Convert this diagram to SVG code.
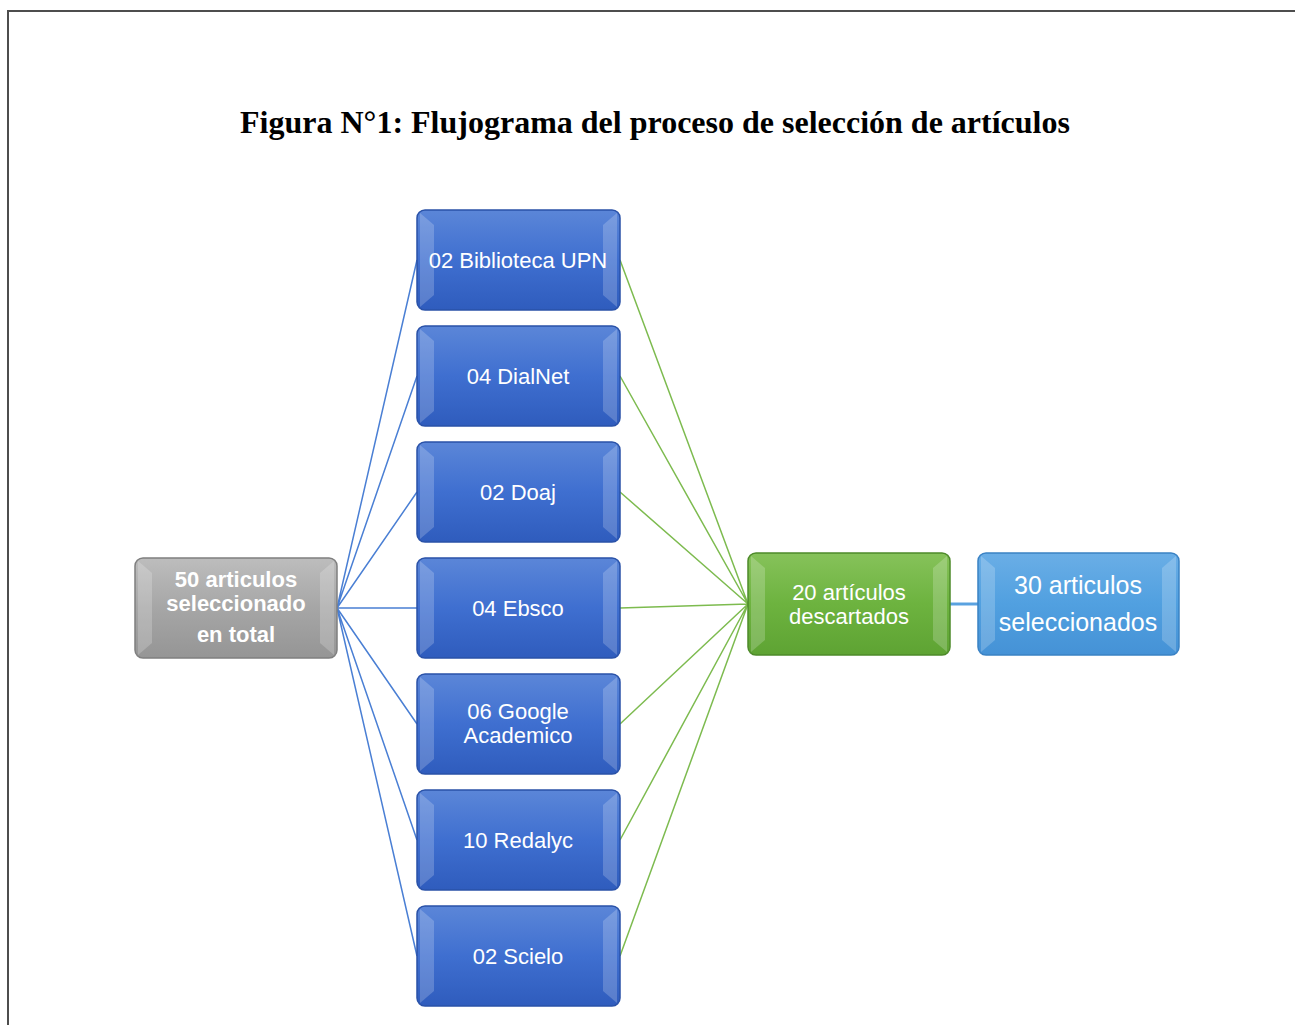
<svg xmlns="http://www.w3.org/2000/svg" width="1295" height="1025" viewBox="0 0 1295 1025">
<defs>
<linearGradient id="gBlue" x1="0" y1="0" x2="0" y2="1">
<stop offset="0" stop-color="#5b86d8"/><stop offset="0.5" stop-color="#3f6fd0"/><stop offset="1" stop-color="#2f5cbd"/>
</linearGradient>
<linearGradient id="gGray" x1="0" y1="0" x2="0" y2="1">
<stop offset="0" stop-color="#bdbdbd"/><stop offset="0.5" stop-color="#a6a6a6"/><stop offset="1" stop-color="#959595"/>
</linearGradient>
<linearGradient id="gGreen" x1="0" y1="0" x2="0" y2="1">
<stop offset="0" stop-color="#86c25a"/><stop offset="0.5" stop-color="#6db33f"/><stop offset="1" stop-color="#5ea333"/>
</linearGradient>
<linearGradient id="gLight" x1="0" y1="0" x2="0" y2="1">
<stop offset="0" stop-color="#6aaee6"/><stop offset="0.5" stop-color="#51a0e0"/><stop offset="1" stop-color="#4592d6"/>
</linearGradient>
</defs>
<style>
.bl{fill:url(#gBlue);stroke:#2a52a8;stroke-width:1.5}
.gr{fill:url(#gGray);stroke:#7f7f7f;stroke-width:1.5}
.gn{fill:url(#gGreen);stroke:#4e8a2a;stroke-width:1.5}
.lb{fill:url(#gLight);stroke:#3a82c4;stroke-width:1.5}
.hl{fill:#ffffff;opacity:0.2}
.t{font-family:"Liberation Sans",Arial,sans-serif;fill:#ffffff;text-anchor:middle}
.cb{stroke:#4a7fd4;stroke-width:1.5;fill:none}
.cg{stroke:#7dbb4f;stroke-width:1.5;fill:none}
</style>
<rect width="1295" height="1025" fill="#ffffff"/>
<path d="M8 1025 V11 H1295" fill="none" stroke="#4d4d4d" stroke-width="2"/>
<text x="655" y="133" font-family="Liberation Serif,'Times New Roman',serif" font-weight="bold" font-size="32" text-anchor="middle" fill="#000">Figura N°1: Flujograma del proceso de selección de artículos</text>
<g id="connectors">
<path class="cb" d="M337 608 L417 260 M337 608 L417 376 M337 608 L417 492 M337 608 L417 608 M337 608 L417 724 M337 608 L417 840 M337 608 L417 956"/>
<path class="cg" d="M620 260 L748 604 M620 376 L748 604 M620 492 L748 604 M620 608 L748 604 M620 724 L748 604 M620 840 L748 604 M620 956 L748 604"/>
<path d="M950 604 L978 604" stroke="#5aa2e0" stroke-width="3" fill="none"/>
</g>
<g id="n-total">
<rect class="gr" x="135" y="558" width="202" height="100" rx="8"/>
<polygon class="hl" points="138,561 152,573 152,643 138,655"/>
<polygon class="hl" points="334,561 320,573 320,643 334,655"/>
<text class="t" font-weight="bold" font-size="22"><tspan x="236" y="587">50 articulos</tspan><tspan x="236" y="611">seleccionado</tspan><tspan x="236" y="642">en total</tspan></text>
</g>
<g id="n-upn">
<rect class="bl" x="417" y="210" width="203" height="100" rx="8"/>
<polygon class="hl" points="420,213 434,225 434,295 420,307"/>
<polygon class="hl" points="617,213 603,225 603,295 617,307"/>
<text class="t" font-size="22" x="518" y="268">02 Biblioteca UPN</text>
</g>
<g id="n-dialnet">
<rect class="bl" x="417" y="326" width="203" height="100" rx="8"/>
<polygon class="hl" points="420,329 434,341 434,411 420,423"/>
<polygon class="hl" points="617,329 603,341 603,411 617,423"/>
<text class="t" font-size="22" x="518" y="384">04 DialNet</text>
</g>
<g id="n-doaj">
<rect class="bl" x="417" y="442" width="203" height="100" rx="8"/>
<polygon class="hl" points="420,445 434,457 434,527 420,539"/>
<polygon class="hl" points="617,445 603,457 603,527 617,539"/>
<text class="t" font-size="22" x="518" y="500">02 Doaj</text>
</g>
<g id="n-ebsco">
<rect class="bl" x="417" y="558" width="203" height="100" rx="8"/>
<polygon class="hl" points="420,561 434,573 434,643 420,655"/>
<polygon class="hl" points="617,561 603,573 603,643 617,655"/>
<text class="t" font-size="22" x="518" y="616">04 Ebsco</text>
</g>
<g id="n-google">
<rect class="bl" x="417" y="674" width="203" height="100" rx="8"/>
<polygon class="hl" points="420,677 434,689 434,759 420,771"/>
<polygon class="hl" points="617,677 603,689 603,759 617,771"/>
<text class="t" font-size="22"><tspan x="518" y="719">06 Google</tspan><tspan x="518" y="743">Academico</tspan></text>
</g>
<g id="n-redalyc">
<rect class="bl" x="417" y="790" width="203" height="100" rx="8"/>
<polygon class="hl" points="420,793 434,805 434,875 420,887"/>
<polygon class="hl" points="617,793 603,805 603,875 617,887"/>
<text class="t" font-size="22" x="518" y="848">10 Redalyc</text>
</g>
<g id="n-scielo">
<rect class="bl" x="417" y="906" width="203" height="100" rx="8"/>
<polygon class="hl" points="420,909 434,921 434,991 420,1003"/>
<polygon class="hl" points="617,909 603,921 603,991 617,1003"/>
<text class="t" font-size="22" x="518" y="964">02 Scielo</text>
</g>
<g id="n-descartados">
<rect class="gn" x="748" y="553" width="202" height="102" rx="8"/>
<polygon class="hl" points="751,556 765,568 765,640 751,652"/>
<polygon class="hl" points="947,556 933,568 933,640 947,652"/>
<text class="t" font-size="22"><tspan x="849" y="600">20 artículos</tspan><tspan x="849" y="624">descartados</tspan></text>
</g>
<g id="n-seleccionados">
<rect class="lb" x="978" y="553" width="201" height="102" rx="8"/>
<polygon class="hl" points="981,556 995,568 995,640 981,652"/>
<polygon class="hl" points="1176,556 1162,568 1162,640 1176,652"/>
<text class="t" font-size="25"><tspan x="1078" y="594">30 articulos</tspan><tspan x="1078" y="631">seleccionados</tspan></text>
</g>
</svg>
